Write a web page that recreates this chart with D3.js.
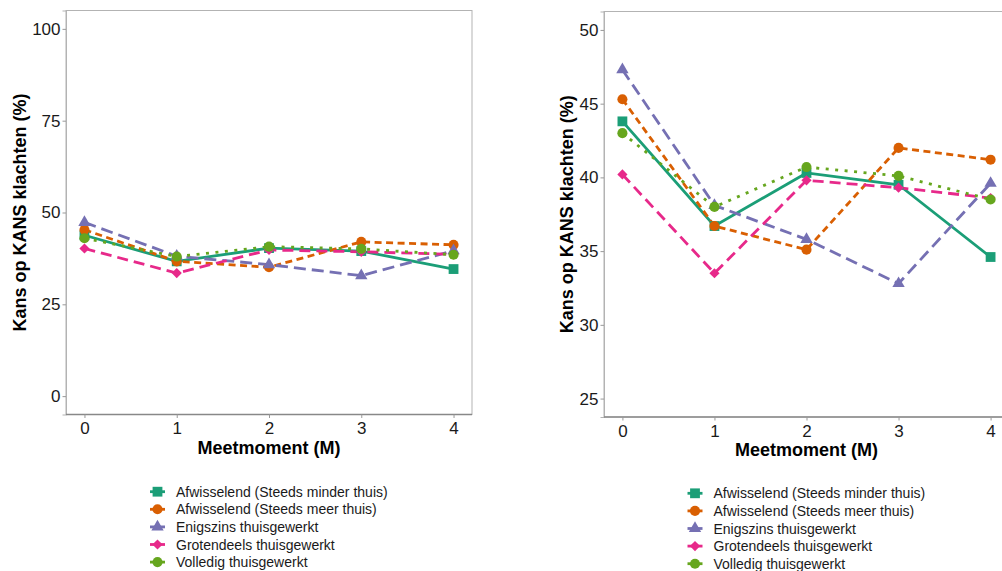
<!DOCTYPE html>
<html>
<head>
<meta charset="utf-8">
<script src="https://cdn.jsdelivr.net/npm/d3@7"></script>
<style>
  html, body { margin: 0; padding: 0; background: #fff; }
  svg { display: block; font-family: "Liberation Sans", Arial, sans-serif; }
</style>
</head>
<body>
<svg id="chart" width="1002" height="571"></svg>
<script>
// ---- data ----
const moments = [0, 1, 2, 3, 4];
const seriesNames = [
  "Afwisselend (Steeds minder thuis)",
  "Afwisselend (Steeds meer thuis)",
  "Enigszins thuisgewerkt",
  "Grotendeels thuisgewerkt",
  "Volledig thuisgewerkt"
];
const afwisselendMinder = [43.8, 36.7, 40.3, 39.5, 34.6];
const afwisselendMeer   = [45.3, 36.7, 35.1, 42.0, 41.2];
const enigszins         = [47.3, 38.1, 35.8, 32.8, 39.6];
const grotendeels       = [40.2, 33.5, 39.8, 39.3, 38.6];
const volledig          = [43.0, 38.0, 40.7, 40.1, 38.5];
const seriesValues = [afwisselendMinder, afwisselendMeer, enigszins, grotendeels, volledig];
const leftTicks = [0, 25, 50, 75, 100];
const rightTicks = [25, 30, 35, 40, 45, 50];

const colors = ["#1B9E77", "#D95F02", "#7570B3", "#E7298A", "#66A61E"];
const dashes = [null, "7,4.5", "12,6", "11,6", "3,6.5"];
const shapes = ["square", "circle", "triangle", "diamond", "circle"];

const svg = d3.select("#chart");

function symbolPath(shape) {
  if (shape === "square") return d3.symbol(d3.symbolSquare, 96)();
  if (shape === "circle") return d3.symbol(d3.symbolCircle, 80)();
  if (shape === "triangle") return d3.symbol(d3.symbolTriangle, 66)();
  return d3.symbol(d3.symbolSquare, 52)();
}

function drawPanel(cfg) {
  const g = svg.append("g");
  const x = d3.scaleLinear().domain([-0.2, 4.2]).range([cfg.left, cfg.right]);
  const y = d3.scaleLinear().domain(cfg.domain).range([cfg.bottom, cfg.top]);

  // panel border
  g.append("rect")
    .attr("x", cfg.left).attr("y", cfg.top)
    .attr("width", cfg.right - cfg.left).attr("height", cfg.bottom - cfg.top)
    .attr("fill", "none").attr("stroke", "#b3b3b3").attr("stroke-width", 1);

  // y axis
  const ya = g.append("g").attr("transform", `translate(${cfg.left},0)`)
    .call(d3.axisLeft(y).tickValues(cfg.ticks).tickSize(3.5).tickPadding(2).tickFormat(d3.format("d")));
  ya.select(".domain").attr("stroke", "#b3b3b3");
  ya.selectAll(".tick line").attr("stroke", "#999");
  ya.selectAll(".tick text").attr("font-size", 17).attr("fill", "#1a1a1a")
    .attr("font-family", "Liberation Sans, Arial, sans-serif");

  // x axis
  const xa = g.append("g").attr("transform", `translate(0,${cfg.bottom})`)
    .call(d3.axisBottom(x).tickValues(moments).tickSize(3.5).tickPadding(4).tickFormat(d3.format("d")));
  xa.select(".domain").attr("stroke", "#888").attr("stroke-width", 1.6)
    .attr("d", `M${cfg.left},0H${cfg.right}`);
  xa.selectAll(".tick line").attr("stroke", "#999");
  xa.selectAll(".tick text").attr("font-size", 17).attr("fill", "#1a1a1a")
    .attr("font-family", "Liberation Sans, Arial, sans-serif");

  // titles
  g.append("text")
    .attr("x", (cfg.left + cfg.right) / 2).attr("y", cfg.xTitleY)
    .attr("text-anchor", "middle").attr("font-size", 18).attr("font-weight", "bold")
    .attr("fill", "#000").text("Meetmoment (M)");
  g.append("text")
    .attr("transform", `translate(${cfg.yTitleX},${(cfg.top + cfg.bottom) / 2}) rotate(-90)`)
    .attr("text-anchor", "middle").attr("font-size", 18).attr("font-weight", "bold")
    .attr("fill", "#000").text("Kans op KANS klachten (%)");

  // lines
  const line = d3.line().x((d, i) => x(moments[i])).y(d => y(d));
  seriesValues.forEach((vals, s) => {
    g.append("path").datum(vals)
      .attr("d", line)
      .attr("fill", "none")
      .attr("stroke", colors[s])
      .attr("stroke-width", 2.8)
      .attr("stroke-dasharray", dashes[s])
      .attr("stroke-linecap", "butt");
  });
  // points
  seriesValues.forEach((vals, s) => {
    g.selectAll(null).data(vals).enter().append("path")
      .attr("d", symbolPath(shapes[s]))
      .attr("transform", (d, i) => `translate(${x(moments[i])},${y(d)})` + (shapes[s] === "diamond" ? " rotate(45)" : ""))
      .attr("fill", colors[s]);
  });

  // legend
  const lg = g.append("g");
  seriesNames.forEach((name, s) => {
    const cy = cfg.legendY + s * 17.6;
    lg.append("line")
      .attr("x1", cfg.legendX - 7.5).attr("x2", cfg.legendX + 7.5)
      .attr("y1", cy).attr("y2", cy)
      .attr("stroke", colors[s]).attr("stroke-width", 2.8);
    lg.append("path")
      .attr("d", symbolPath(shapes[s]))
      .attr("transform", `translate(${cfg.legendX},${cy})` + (shapes[s] === "diamond" ? " rotate(45)" : ""))
      .attr("fill", colors[s]);
    lg.append("text")
      .attr("x", cfg.legendX + 18.5).attr("y", cy)
      .attr("dy", "0.36em")
      .attr("font-size", 14).attr("fill", "#1a1a1a")
      .text(name);
  });
}

drawPanel({
  left: 66, right: 472, top: 10.5, bottom: 414.5,
  domain: [-5, 105], ticks: leftTicks,
  xTitleY: 454, yTitleX: 26,
  legendX: 157.5, legendY: 491.7
});
drawPanel({
  left: 604, right: 1009, top: 11.5, bottom: 417,
  domain: [23.75, 51.25], ticks: rightTicks,
  xTitleY: 456, yTitleX: 573,
  legendX: 695, legendY: 493.3
});
</script>
</body>
</html>
